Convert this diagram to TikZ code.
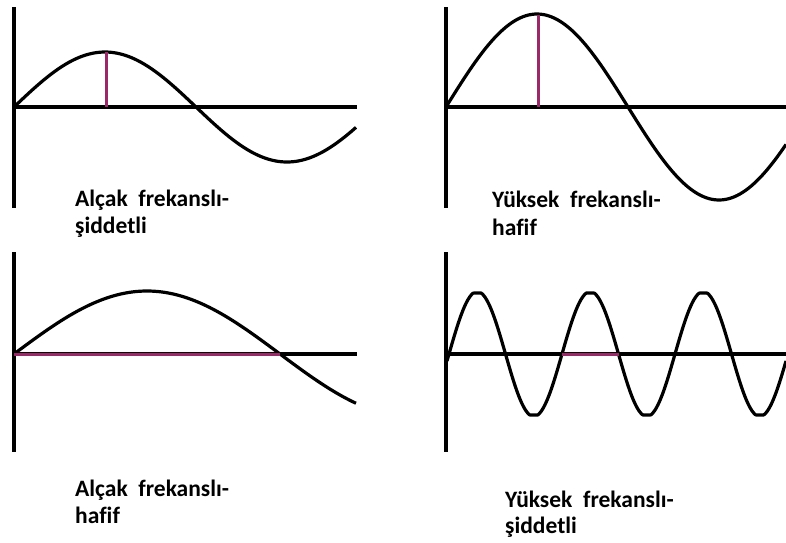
\documentclass[tikz,border=0pt]{standalone}
\usepackage{fontspec}
\setmainfont{Carlito}[Ligatures={NoCommon}]
\definecolor{magline}{RGB}{155,40,105}
\begin{document}
\begin{tikzpicture}[x=1pt,y=-1pt,
  axis/.style={line width=3.2pt,black},
  wave/.style={line width=3.2pt,black,line join=round},
  magmark/.style={line width=3pt,magline},
  lbl/.style={anchor=base west,inner sep=0pt,font=\fontsize{23.5}{28}\selectfont\bfseries}]
\useasboundingbox (0,0) rectangle (786,542);
% Panel 1
\draw[axis] (14,7) -- (14,208);
\draw[axis] (14,107) -- (357,107);
\draw[wave] plot[domain=14:356,samples=120] (\x,{107-55*sin((\x-14)/182*180)});
\draw[magmark] (106,107) -- (106,52);
\node[lbl] (t1a) at (75,206) {Alçak\ \ frekanslı-};
\node[lbl] (t1b) at (75,233) {şiddetli};
% Panel 2
\draw[axis] (446,7) -- (446,208);
\draw[axis] (446,107) -- (786,107);
\draw[wave] plot[domain=446:786,samples=120] (\x,{107-93*sin((\x-446)/182*180)});
\draw[magmark] (538,107) -- (538,15);
\node[lbl] (t2a) at (492,207) {Yüksek\ \ frekanslı-};
\node[lbl] (t2b) at (492,235) {hafif};
% Panel 3
\draw[axis] (14,252) -- (14,452);
\draw[axis] (14,354) -- (357,354);
\draw[wave] plot[domain=14:356,samples=120] (\x,{354-63*sin((\x-14)/266*180)});
\draw[magmark] (14,354) -- (280,354);
\node[lbl] (t3a) at (75,496) {Alçak\ \ frekanslı-};
\node[lbl] (t3b) at (75,523) {hafif};
% Panel 4
\draw[axis] (446,252) -- (446,452);
\draw[axis] (446,354) -- (786,354);
\draw[wave] plot[domain=447:786,samples=300] (\x,{354-max(-61,min(61,62.5*sin((\x-449)/56.5*180)))});
\draw[magmark] (562,354) -- (618.5,354);
\node[lbl] (t4a) at (505,507) {Yüksek\ \ frekanslı-};
\node[lbl] (t4b) at (505,533) {şiddetli};
\end{tikzpicture}
\end{document}
